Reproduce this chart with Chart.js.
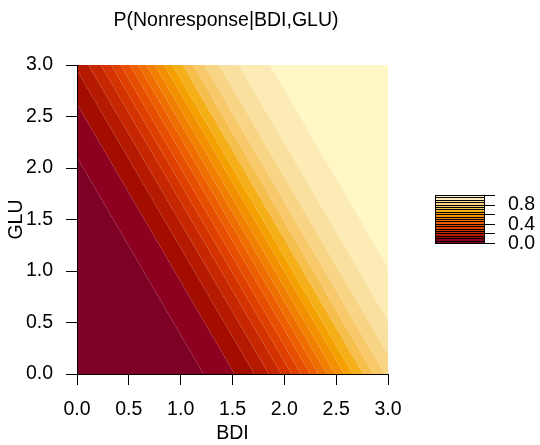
<!DOCTYPE html>
<html>
<head>
<meta charset="utf-8">
<script src="https://cdn.jsdelivr.net/npm/chart.js@4.4.1/dist/chart.umd.min.js"></script>
<style>
html,body{margin:0;padding:0;background:#fff;}
#wrap{position:relative;width:540px;height:445px;overflow:hidden;background:#fff;}
#main{position:absolute;left:0;top:0;}
#key{position:absolute;left:420px;top:170px;}
</style>
</head>
<body>
<div id="wrap">
<canvas id="main" width="452" height="445"></canvas>
<canvas id="key" width="120" height="100"></canvas>
</div>
<script>
// ---- data ----
const chartTitle = 'P(Nonresponse|BDI,GLU)';
const xTitle = 'BDI';
const yTitle = 'GLU';
const xTickValues = [0, 0.5, 1, 1.5, 2, 2.5, 3];
const xTickLabels = ['0.0', '0.5', '1.0', '1.5', '2.0', '2.5', '3.0'];
const yTickValues = [0, 0.5, 1, 1.5, 2, 2.5, 3];
const yTickLabels = ['0.0', '0.5', '1.0', '1.5', '2.0', '2.5', '3.0'];

// band edges (probability levels)
const levels = [0, 0.05, 0.10, 0.15, 0.20, 0.25, 0.30, 0.35, 0.40, 0.45, 0.50,
                0.55, 0.60, 0.65, 0.70, 0.75, 0.80, 0.85, 0.90, 0.95, 1.0];
// where each inner contour (0.05 ... 0.95) crosses GLU = 0 and GLU = 3 (BDI units)
const crossAtGLU0 = [1.22, 1.52, 1.71, 1.85, 1.97, 2.07, 2.16, 2.25, 2.33, 2.41,
                     2.49, 2.58, 2.66, 2.76, 2.86, 2.97, 3.11, 3.30, 3.60];
const crossAtGLU3 = [-0.52, -0.22, -0.03, 0.11, 0.23, 0.33, 0.42, 0.51, 0.59, 0.67,
                     0.75, 0.84, 0.92, 1.02, 1.12, 1.23, 1.37, 1.56, 1.86];
const bandColors = ['#7D0025', '#8D0020', '#A30D00', '#B51A00', '#C62700',
                    '#D43300', '#DF4000', '#E74E00', '#EC5E00', '#EF6E00',
                    '#F17F00', '#F39000', '#F4A100', '#F5B019', '#F6BE4C',
                    '#F7C96A', '#F8D585', '#FAE09E', '#FCEBB4', '#FFF7C6'];
const keyTickMarks = [0, 0.2, 0.4, 0.6, 0.8, 1.0];
const keyLabelValues = [0, 0.4, 0.8];
const keyLabelTexts = ['0.0', '0.4', '0.8'];

// ---- styling ----
const FONT = '"Liberation Sans", Arial, Helvetica, sans-serif';
const FS = 19.5;
const font = {family: FONT, size: FS, weight: 'normal'};
const near = (a, b) => Math.abs(a - b) < 1e-9;

// ---- main contour chart ----
const YLO = -0.2, YHI = 3.2, FAR_L = -2, FAR_R = 6;
function xOnLine(b, t, y) { return b + (t - b) * y / 3; }
const datasets = bandColors.map((col, k) => {
  const loB = k === 0 ? FAR_L : crossAtGLU0[k - 1];
  const loT = k === 0 ? FAR_L : crossAtGLU3[k - 1];
  const hiB = k === bandColors.length - 1 ? FAR_R : crossAtGLU0[k];
  const hiT = k === bandColors.length - 1 ? FAR_R : crossAtGLU3[k];
  return {
    label: levels[k] + '-' + levels[k + 1],
    data: [
      {x: xOnLine(loB, loT, YLO), y: YLO},
      {x: xOnLine(loB, loT, YHI), y: YHI},
      {x: xOnLine(hiB, hiT, YHI), y: YHI},
      {x: xOnLine(hiB, hiT, YLO), y: YLO}
    ],
    backgroundColor: col,
    borderWidth: 0,
    borderColor: 'rgba(0,0,0,0)',
    fill: 'shape',
    pointRadius: 0,
    pointHoverRadius: 0,
    tension: 0
  };
});

new Chart(document.getElementById('main'), {
  type: 'line',
  data: {datasets},
  options: {
    responsive: false,
    animation: false,
    events: [],
    layout: {padding: {left: 0, right: 0, top: 0, bottom: 0}},
    plugins: {
      legend: {display: false},
      tooltip: {enabled: false},
      title: {display: true, text: chartTitle, color: '#000', font: font,
              padding: {top: 8.5, bottom: 33.1}}
    },
    scales: {
      x: {
        type: 'linear', position: 'bottom', min: 0, max: 3,
        afterBuildTicks: s => { s.ticks = xTickValues.map(v => ({value: v})); },
        afterFit: s => { s.height = 71; },
        ticks: {autoSkip: false, maxRotation: 0, color: '#000', font: font, padding: 13,
                callback: v => xTickLabels[xTickValues.findIndex(t => near(t, v))]},
        grid: {drawOnChartArea: false, drawTicks: true, tickLength: 11, tickColor: '#000', tickWidth: 1},
        border: {display: true, color: '#000', width: 1, z: 1},
        title: {display: true, text: xTitle, color: '#000', font: font, padding: {top: 0, bottom: 0}}
      },
      y: {
        type: 'linear', position: 'left', min: 0, max: 3,
        afterBuildTicks: s => { s.ticks = yTickValues.map(v => ({value: v})); },
        afterFit: s => { s.width = 77; },
        ticks: {autoSkip: false, color: '#000', font: font, padding: 13,
                callback: v => yTickLabels[yTickValues.findIndex(t => near(t, v))]},
        grid: {drawOnChartArea: false, drawTicks: true, tickLength: 11, tickColor: '#000', tickWidth: 1},
        border: {display: true, color: '#000', width: 1, z: 1},
        title: {display: true, text: yTitle, color: '#000', font: font, padding: {top: 5.3, bottom: 0}}
      },
      spacer: {
        type: 'linear', position: 'right', min: 0, max: 1, display: true,
        afterFit: s => { s.width = 64; },
        ticks: {display: false},
        grid: {display: false, drawTicks: false},
        border: {display: false},
        title: {display: false}
      }
    }
  }
});

// ---- colour key ----
new Chart(document.getElementById('key'), {
  type: 'bar',
  data: {
    labels: [''],
    datasets: bandColors.map((col, k) => ({
      data: [[levels[k], levels[k + 1]]],
      backgroundColor: col,
      borderWidth: 0,
      barPercentage: 1,
      categoryPercentage: 1,
      grouped: false
    }))
  },
  options: {
    responsive: false,
    animation: false,
    events: [],
    layout: {padding: {left: 15, right: 0, top: 25.5, bottom: 26.5}},
    plugins: {legend: {display: false}, tooltip: {enabled: false}, title: {display: false}},
    scales: {
      x: {
        display: true,
        afterFit: s => { s.height = 0; },
        ticks: {display: false},
        grid: {display: true, drawOnChartArea: true, drawTicks: false, offset: true,
               color: '#000', lineWidth: 1, z: 1},
        border: {display: false}
      },
      y: {
        type: 'linear', position: 'right', min: 0, max: 1,
        afterBuildTicks: s => { s.ticks = levels.map(v => ({value: v})); },
        afterFit: s => { s.width = 56; },
        ticks: {autoSkip: false, color: '#000', font: font, padding: 13,
                callback: v => {
                  const i = keyLabelValues.findIndex(t => near(t, v));
                  return i >= 0 ? keyLabelTexts[i] : '';
                }},
        grid: {drawOnChartArea: true, drawTicks: true, tickLength: 11, color: '#000', lineWidth: 1,
               tickWidth: 1, z: 1,
               tickColor: c => (c.tick && keyTickMarks.some(t => near(t, c.tick.value))) ? '#000' : 'rgba(0,0,0,0)'},
        border: {display: true, color: '#000', width: 1, z: 1}
      }
    }
  }
});
</script>
</body>
</html>
